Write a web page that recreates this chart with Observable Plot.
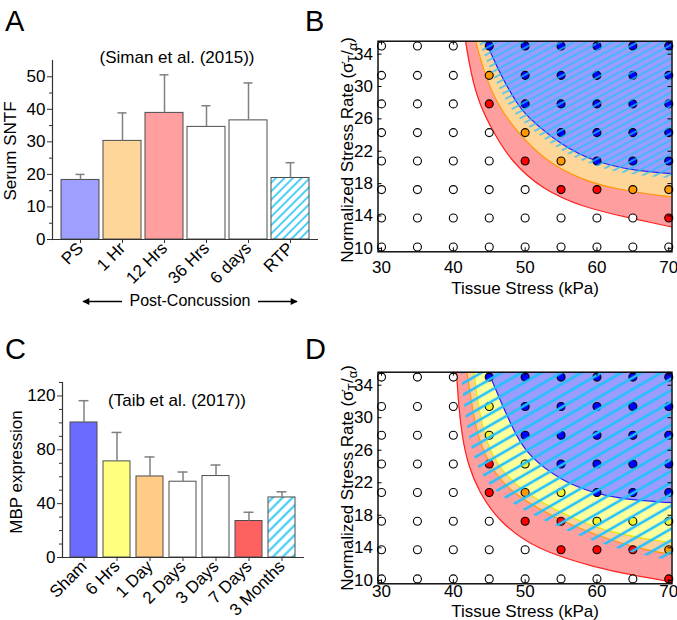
<!DOCTYPE html>
<html><head><meta charset="utf-8">
<script src="https://cdn.jsdelivr.net/npm/d3@7"></script>
<script src="https://cdn.jsdelivr.net/npm/@observablehq/plot@0.6"></script>
<style>
body{margin:0;background:#fff;}
#fig{position:relative;width:677px;height:620px;overflow:hidden;background:#fff;font-family:"Liberation Sans",Arial,Helvetica,sans-serif;}
.panel{position:absolute;}
#ov{position:absolute;left:0;top:0;pointer-events:none;}
#ov text{font-family:"Liberation Sans",Arial,Helvetica,sans-serif;fill:#000;}
</style></head><body>
<div id="fig">
<div class="panel" id="pA" style="left:0;top:0"></div>
<div class="panel" id="pB" style="left:340px;top:0"></div>
<div class="panel" id="pC" style="left:0;top:310px"></div>
<div class="panel" id="pD" style="left:340px;top:310px"></div>
<svg id="ov" width="677" height="620">
<defs><marker id="ah" viewBox="0 0 10 10" refX="9" refY="5" markerWidth="9" markerHeight="7" orient="auto" markerUnits="userSpaceOnUse"><path d="M0,0 L10,5 L0,10 z" fill="#000"/></marker></defs>
<text x="5" y="30.5" font-size="29">A</text>
<text x="305" y="30.5" font-size="29">B</text>
<text x="5" y="358.5" font-size="29">C</text>
<text x="305" y="358.5" font-size="29">D</text>
<text x="177" y="63" font-size="17" text-anchor="middle">(Siman et al. (2015))</text>
<text x="177" y="406" font-size="17" text-anchor="middle">(Taib et al. (2017))</text>
<text transform="translate(15.5,151) rotate(-90)" font-size="17" text-anchor="middle">Serum SNTF</text>
<text transform="translate(21.5,472) rotate(-90)" font-size="17" text-anchor="middle">MBP expression</text>
<text x="190" y="305.5" font-size="16" text-anchor="middle">Post-Concussion</text>
<line x1="122" y1="301.5" x2="83" y2="301.5" stroke="#000" stroke-width="1.3" marker-end="url(#ah)"/>
<line x1="258" y1="301.5" x2="297" y2="301.5" stroke="#000" stroke-width="1.3" marker-end="url(#ah)"/>
<text transform="translate(353,150) rotate(-90)" font-size="17" text-anchor="middle">Normalized Stress Rate (σ̇<tspan dy="4" font-size="12">T</tspan><tspan dy="-4">/</tspan><tspan dy="4" font-size="13">α</tspan><tspan dy="-4">)</tspan></text>
<text transform="translate(353,478) rotate(-90)" font-size="17" text-anchor="middle">Normalized Stress Rate (σ̇<tspan dy="4" font-size="12">T</tspan><tspan dy="-4">/</tspan><tspan dy="4" font-size="13">α</tspan><tspan dy="-4">)</tspan></text>
<text x="525" y="293.5" font-size="17" text-anchor="middle">Tissue Stress (kPa)</text>
<text x="525" y="616.5" font-size="17" text-anchor="middle">Tissue Stress (kPa)</text>
</svg>
</div>
<script>
// ---------- Panel A data ----------
const catsA = ["PS", "1 Hr", "12 Hrs", "36 Hrs", "6 days", "RTP"];
const meanA = [18.3, 30.3, 38.9, 34.6, 36.6, 18.9];
const upperA = [20.0, 38.9, 50.6, 41.1, 48.1, 23.6];
const ticksA = [0, 10, 20, 30, 40, 50];
const minorA = [5, 15, 25, 35, 45];

// ---------- Panel C data ----------
const catsC = ["Sham", "6 Hrs", "1 Day", "2 Days", "3 Days", "7 Days", "3 Months"];
const meanC = [100.3, 71.4, 60.2, 56.3, 60.5, 27.1, 44.6];
const upperC = [116.5, 92.9, 74.7, 63.5, 68.7, 33.6, 48.8];
const ticksC = [0, 40, 80, 120];
const minorC = [10, 20, 30, 50, 60, 70, 90, 100, 110, 130];

// ---------- Panels B & D data ----------
const stressX = [30, 35, 40, 45, 50, 55, 60, 65, 70];
const rateY = [10.17, 13.75, 17.26, 20.8, 24.3, 27.85, 31.38, 35.0];
const ticksX = [30, 40, 50, 60, 70];
const ticksY = [10, 14, 18, 22, 26, 30, 34];
// per row (rateY order), per column (stressX order): n none, r red, o orange, y yellow, b blue
const stateB = ["nnnnnnnnn", "nnnnnnnnr", "nnnnnrroo", "nnnnrobbb", "nnnnobbbb", "nnnrbbbbb", "nnnobbbbb", "nnnbbbbbb"];
const stateD = ["nnnnnnnnr", "nnnnnrrro", "nnnnrryyy", "nnnroybbb", "nnnrybbbb", "nnnybbbbb", "nnnybbbbb", "nnnbbbbbb"];
// boundary curves [stress, rate]
const redB = [[41.7, 35.6], [42.5, 31.38], [43.6, 27.85], [45.6, 24.3], [48.0, 20.8], [52.4, 17.26], [58.0, 15.1], [64.5, 13.75], [70.45, 12.64]];
const orangeB = [[43.1, 35.6], [44.4, 31.38], [46.1, 27.85], [48.9, 24.3], [52.9, 20.8], [57.5, 18.6], [62.5, 17.26], [70.45, 16.34]];
const hatchB = [[43.55, 35.6], [45.55, 31.38], [47.5, 27.85], [49.5, 25.6], [55.0, 21.9], [60.0, 19.95], [65.0, 19.0], [70.45, 18.61]];
const blueB = [[44.5, 35.6], [46.6, 31.38], [48.9, 27.85], [50.0, 26.5], [55.0, 22.7], [60.0, 20.6], [65.0, 19.64], [70.45, 19.23]];
const redD = [[40.45, 35.6], [40.75, 31.38], [41.2, 27.85], [42.0, 24.3], [43.6, 20.8], [46.3, 17.26], [51.5, 13.75], [60.0, 11.53], [65.0, 10.62], [70.45, 9.8]];
const hatchD = [[41.1, 35.6], [41.55, 31.38], [42.15, 27.85], [43.1, 24.3], [45.5, 20.8], [52.3, 17.26], [62.4, 13.75], [70.45, 12.35]];
const orangeD = [[41.9, 35.6], [42.6, 31.38], [43.35, 27.85], [44.9, 24.3], [47.8, 20.8], [55.0, 17.26], [61.0, 15.2], [66.5, 13.75], [70.45, 13.18]];
const yellowD = [[42.85, 35.6], [43.5, 31.38], [44.3, 27.85], [45.9, 24.3], [49.6, 20.8], [57.3, 17.26], [63.0, 15.6], [70.45, 14.61]];
const blueD = [[44.9, 35.6], [46.9, 31.4], [48.7, 27.85], [50.5, 25.3], [55.0, 22.23], [60.0, 20.58], [65.0, 19.84], [70.45, 19.55]];

// ---------- styles ----------
const FONT = '"Liberation Sans", Arial, Helvetica, sans-serif';
const barFillA = ["#9f9fff", "#ffd699", "#ff9f9f", "#ffffff", "#ffffff", "url(#hatchA)"];
const barFillC = ["#6b6bff", "#ffff80", "#ffcc88", "#ffffff", "#ffffff", "#ff6060", "url(#hatchC)"];
const dotFill = {n: "#ffffff", r: "#ff0000", o: "#ff9900", y: "#f2f233", b: "#0000ff"};
const regionFill = {red: "#ff9e9e", orange: "#ffd699", orangeD: "#ffcf9c", yellow: "#ffff9c", blue: "#9c9cff"};
const regionLine = {red: "#ff2020", orange: "#ff9900", yellow: "#e8e800", blue: "#2020ff"};

function addHatch(svg, id, spacing, width, angle, color) {
  const ns = "http://www.w3.org/2000/svg";
  let defs = svg.querySelector("defs");
  if (!defs) { defs = document.createElementNS(ns, "defs"); svg.insertBefore(defs, svg.firstChild); }
  const p = document.createElementNS(ns, "pattern");
  p.setAttribute("id", id);
  p.setAttribute("patternUnits", "userSpaceOnUse");
  p.setAttribute("width", 20);
  p.setAttribute("height", spacing);
  p.setAttribute("patternTransform", `rotate(${angle})`);
  const l = document.createElementNS(ns, "line");
  l.setAttribute("x1", -1); l.setAttribute("x2", 21);
  l.setAttribute("y1", spacing / 2); l.setAttribute("y2", spacing / 2);
  l.setAttribute("stroke", color); l.setAttribute("stroke-width", width);
  p.appendChild(l);
  defs.appendChild(p);
}

function barPanel({cats, mean, upper, fills, yDomain, ticks, minor, margins, padIn, padOut, capInset, hatchId, hatchArgs}) {
  const data = cats.map((c, i) => ({cat: c, mean: mean[i], upper: upper[i], fill: fills[i]}));
  const svg = Plot.plot({
    width: 340, height: 310, ...margins,
    style: {fontFamily: FONT, fontSize: "17px", color: "#000", background: "none", overflow: "visible"},
    x: {domain: cats, paddingInner: padIn, paddingOuter: padOut},
    y: {domain: yDomain},
    color: {type: "identity"},
    marks: [
      Plot.barY(data, {x: "cat", y: "mean", fill: "fill", stroke: "#4d4d4d", strokeWidth: 1}),
      Plot.ruleX(data, {x: "cat", y1: "mean", y2: "upper", stroke: "#808080", strokeWidth: 1.5}),
      Plot.tickY(data, {x: "cat", y: "upper", stroke: "#808080", strokeWidth: 1.5, insetLeft: capInset, insetRight: capInset}),
      Plot.ruleY([0], {stroke: "#333", strokeWidth: 1.2}),
      Plot.frame({anchor: "left", stroke: "#333", strokeWidth: 1.2}),
      Plot.axisY({ticks, tickSize: 5, tickPadding: 2, label: null, stroke: "#333"}),
      Plot.axisY({ticks: minor, tickSize: 3, tickFormat: () => "", label: null, stroke: "#333"}),
      Plot.axisX({tickSize: 4, tickPadding: 2, tickRotate: -45, label: null, stroke: "#333"})
    ]
  });
  addHatch(svg, hatchId, ...hatchArgs);
  return svg;
}

function stressPanel({state, regions, lines, hatch, hatchId, hatchArgs, marginTop, marginBottom, xPad}) {
  const xDomain = [29.51, 70.45], yDomain = [9.57, 35.6];
  const frameW = 337 - 37.5 - 5.5, frameH = 310 - marginTop - marginBottom;
  const dots = [];
  rateY.forEach((r, i) => stressX.forEach((s, j) => dots.push({s, r, k: state[i][j]})));
  const area = (pts, fill) => Plot.areaX(pts, {y: d => d[1], x1: d => d[0], x2: () => xDomain[1], fill, curve: "basis", clip: true});
  const line = (pts, stroke) => Plot.line(pts, {x: d => d[0], y: d => d[1], stroke, strokeWidth: 1.2, curve: "basis", clip: true});
  const svg = Plot.plot({
    width: 337, height: 310, marginLeft: 37.5, marginRight: 5.5, marginTop, marginBottom,
    style: {fontFamily: FONT, fontSize: "17px", color: "#000", background: "none", overflow: "visible"},
    x: {domain: xDomain},
    y: {domain: yDomain},
    color: {type: "identity"},
    marks: [
      ...regions.map(([pts, fill]) => area(pts, fill)),
      ...lines.map(([pts, stroke]) => line(pts, stroke)),
      Plot.dot(dots, {x: "s", y: "r", r: 4, fill: d => dotFill[d.k], stroke: "#000", strokeWidth: 1.1}),
      area(hatch, `url(#${hatchId})`),
      Plot.frame({stroke: "#000", strokeWidth: 1.4}),
      Plot.tickX(ticksX, {x: d => d, insetTop: frameH - 4, stroke: "#000"}),
      Plot.tickX(ticksX, {x: d => d, insetBottom: frameH - 4, stroke: "#000"}),
      Plot.tickY(ticksY, {y: d => d, insetRight: frameW - 4, stroke: "#000"}),
      Plot.tickY(ticksY, {y: d => d, insetLeft: frameW - 4, stroke: "#000"}),
      Plot.axisX({ticks: ticksX, tickSize: 0, tickPadding: xPad, label: null}),
      Plot.axisY({ticks: ticksY, tickSize: 0, tickPadding: 5, label: null})
    ]
  });
  addHatch(svg, hatchId, ...hatchArgs);
  return svg;
}

document.getElementById("pA").appendChild(barPanel({
  cats: catsA, mean: meanA, upper: upperA, fills: barFillA, yDomain: [0, 55], ticks: ticksA, minor: minorA,
  margins: {marginLeft: 52, marginRight: 22, marginTop: 60, marginBottom: 71},
  padIn: 0.09, padOut: 0.14, capInset: 14.5, hatchId: "hatchA", hatchArgs: [6, 1.7, -45, "#2ec6f5"]
}));
document.getElementById("pC").appendChild(barPanel({
  cats: catsC, mean: meanC, upper: upperC, fills: barFillC, yDomain: [0, 130], ticks: ticksC, minor: minorC,
  margins: {marginLeft: 62, marginRight: 36, marginTop: 72, marginBottom: 63},
  padIn: 0.18, padOut: 0.19, capInset: 8.5, hatchId: "hatchC", hatchArgs: [7, 2, -45, "#2ec6f5"]
}));
document.getElementById("pB").appendChild(stressPanel({
  state: stateB,
  regions: [[redB, regionFill.red], [orangeB, regionFill.orange], [blueB, regionFill.blue]],
  lines: [[redB, regionLine.red], [orangeB, regionLine.orange], [blueB, regionLine.blue]],
  hatch: hatchB, hatchId: "hatchB", hatchArgs: [6, 1.4, -28, "#1fc2ff"],
  marginTop: 40.7, marginBottom: 58.7, xPad: 9
}));
document.getElementById("pD").appendChild(stressPanel({
  state: stateD,
  regions: [[redD, regionFill.red], [orangeD, regionFill.orangeD], [yellowD, regionFill.yellow], [blueD, regionFill.blue]],
  lines: [[redD, regionLine.red], [orangeD, regionLine.orange], [yellowD, regionLine.yellow], [blueD, regionLine.blue]],
  hatch: hatchD, hatchId: "hatchD", hatchArgs: [10, 2.6, -30, "#1fc2ff"],
  marginTop: 61.7, marginBottom: 36.7, xPad: 1
}));
</script>
</body></html>
